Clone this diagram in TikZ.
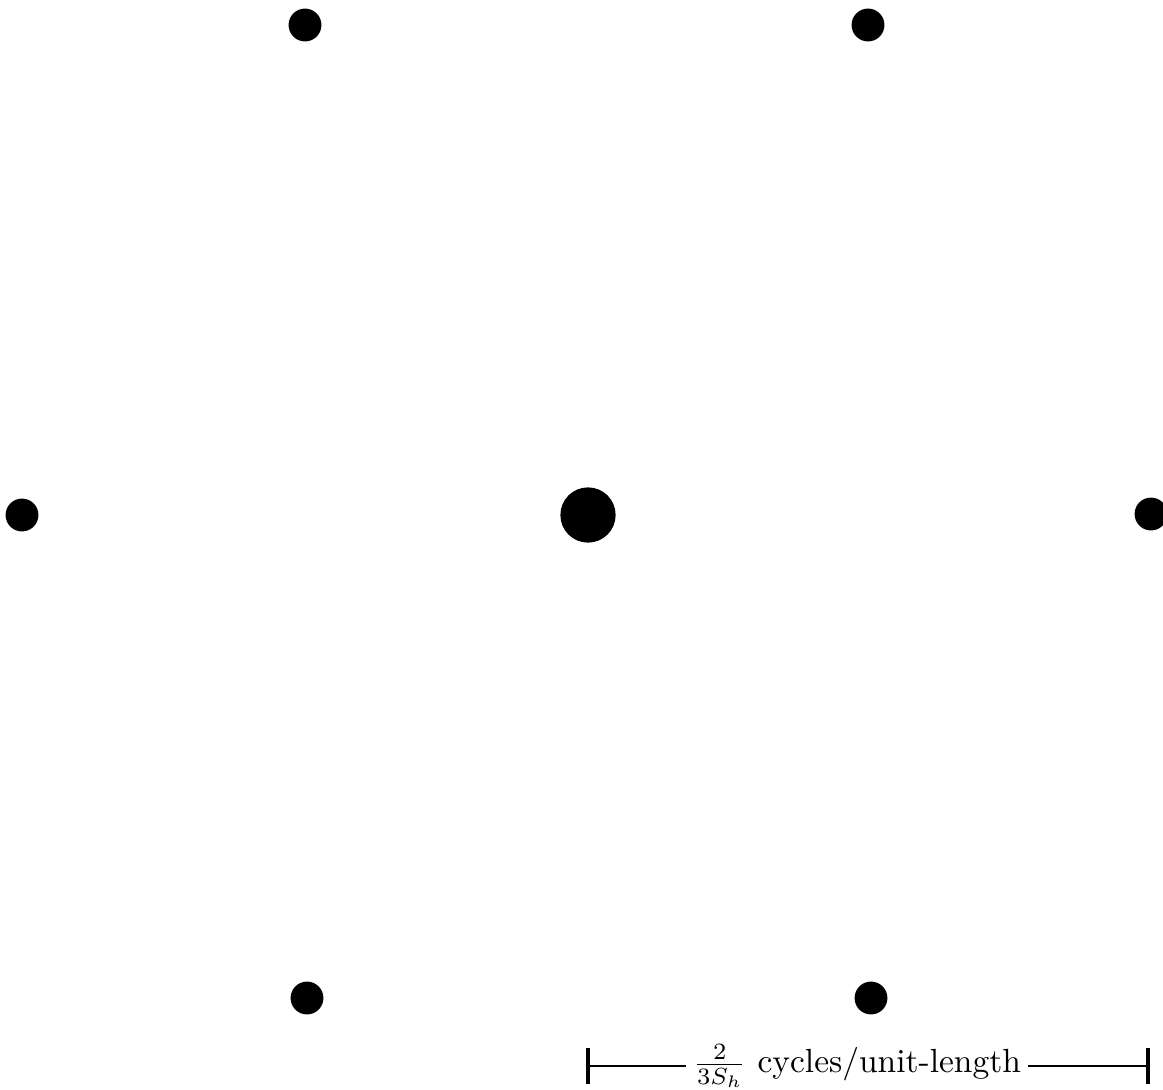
\documentclass[tikz,border=0pt]{standalone}
\begin{document}
\begin{tikzpicture}[x=0.0105cm,y=-0.0105cm,
  spot/.style={circle,fill=black,inner sep=0pt,minimum size=0.345cm},
  origin/.style={circle,fill=black,inner sep=0pt,minimum size=0.58cm}]
  \useasboundingbox (0,0) rectangle (1163,1089);
  \clip (0,0) rectangle (1163,1089);
  % reciprocal lattice points
  \node[origin] (o) at (588,515) {};
  \foreach \n/\x/\y in {a/305/25,b/868/25,c/22/515,d/1151/514,e/307/998,f/871/998}{
    \node[spot] (\n) at (\x,\y) {};
  }
  % scale bar
  \coordinate (barL) at (588,1066);
  \coordinate (barR) at (1148,1066);
  \node[inner sep=2pt] (barlabel) at (857,1066) {$\frac{2}{3S_h}$ cycles/unit-length};
  \draw[line width=0.6pt] (barL) -- (barlabel.west);
  \draw[line width=0.6pt] (barlabel.east) -- (barR);
  \draw[line width=1pt] ([yshift=5.5pt]barL) -- ([yshift=-5.5pt]barL);
  \draw[line width=1pt] ([yshift=5.5pt]barR) -- ([yshift=-5.5pt]barR);
\end{tikzpicture}
\end{document}
